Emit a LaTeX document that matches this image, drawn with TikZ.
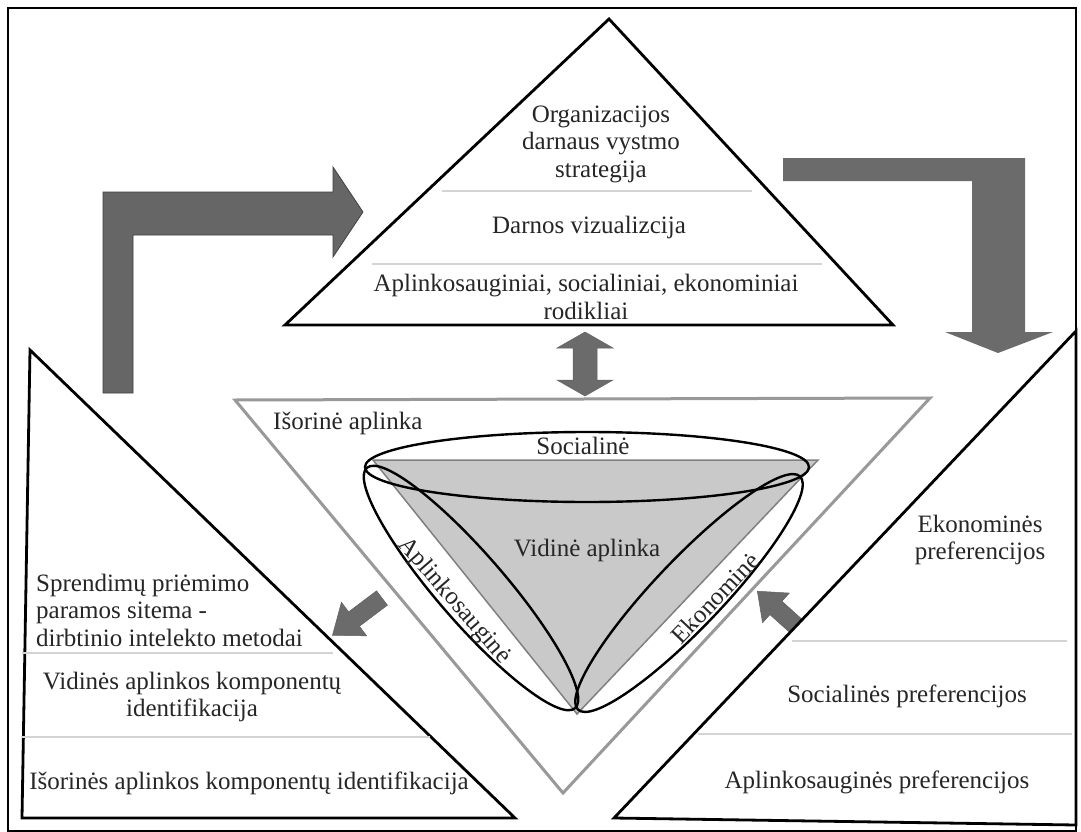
\documentclass[tikz,border=0pt]{standalone}
\usepackage{fontspec}
\setmainfont{Liberation Serif}
% block arrow: tail x, tail y, angle, length, shaft half-width, head half-width, head length
\newcommand\blockarrow[7]{%
  \begin{scope}[shift={(#1,#2)},rotate=#3]
    \filldraw[smallarrow] (0,#5) -- ({#4-#7},#5) -- ({#4-#7},#6) -- (#4,0)
      -- ({#4-#7},-#6) -- ({#4-#7},-#5) -- (0,-#5) -- cycle;
  \end{scope}}
\begin{document}
\begin{tikzpicture}[x=1pt,y=-1pt,
  txt/.style={font=\fontsize{25}{27.5}\selectfont, text=black!85, inner sep=0pt, align=center},
  blk/.style={draw=black, line width=2.8pt, line join=miter},
  sepline/.style={draw=black!17, line width=1.5pt},
  bigarrow/.style={fill=black!60, draw=black!75, line width=0.8pt},
  smallarrow/.style={fill=black!58, draw=black!62, line width=0.5pt},
  lens/.style={draw=black, line width=2.4pt},
]
\useasboundingbox (0,0) rectangle (1081,832);
\fill[white] (0,0) rectangle (1081,832);

% corner points of the triangles
\coordinate (T1) at (609,19);  \coordinate (T2) at (893,325); \coordinate (T3) at (285,325);
\coordinate (L1) at (30,350);  \coordinate (L2) at (515,818); \coordinate (L3) at (22,818);
\coordinate (R1) at (1076,331);\coordinate (R2) at (1076,825);\coordinate (R3) at (614,818);
\coordinate (O1) at (235,400); \coordinate (O2) at (930,398); \coordinate (O3) at (563,793);
\coordinate (I1) at (373,460); \coordinate (I2) at (818,460); \coordinate (I3) at (577,714);

% outer frame
\draw[line width=2.5pt] (8,8) rectangle (1076,831);

% bent arrows
\filldraw[bigarrow] (103,393) -- (103,192) -- (333,192) -- (333,167) -- (363,212)
  -- (333,257) -- (333,235) -- (133,235) -- (133,393) -- cycle;
\filldraw[bigarrow, draw=none, fill=black!58] (783,158) -- (1025,158) -- (1025,332) -- (1053,332)
  -- (998,353) -- (945,332) -- (972,332) -- (972,181) -- (783,181) -- cycle;

% double arrow between strategy and environment
\filldraw[smallarrow] (585,332) -- (613,348) -- (597,348) -- (597,380) -- (613,380)
  -- (585,396) -- (557,380) -- (573,380) -- (573,348) -- (557,348) -- cycle;

% small arrows
\blockarrow{382}{598}{217}{62}{9}{21}{27}
\blockarrow{796}{626}{138}{52}{9}{20}{25}

% external environment
\draw[draw=black!40, line width=3pt, line join=miter] (O1) -- (O2) -- (O3) -- cycle;
% internal environment
\filldraw[fill=black!21, draw=black!50, line width=1.5pt] (I1) -- (I2) -- (I3) -- cycle;

% three lenses
\draw[lens] (587,467) ellipse [x radius=222pt, y radius=35pt];
\draw[lens, rotate around={-49.1:(471,588)}] (471,588) ellipse [x radius=159pt, y radius=34pt];
\draw[lens, rotate around={46.4:(689,593)}] (689,593) ellipse [x radius=161pt, y radius=34pt];

% main triangles
\draw[blk] (T1) -- (T2) -- (T3) -- cycle;
\draw[blk] (L1) -- (L2) -- (L3) -- cycle;
\draw[blk] (R1) -- (R2) -- (R3) -- cycle;

% separators
\draw[sepline] (442,191) -- (752,191);
\draw[sepline] (372,264) -- (822,264);
\draw[sepline] (22,653) -- (333,653);
\draw[sepline] (22,737) -- (430,737);
\draw[sepline] (792,641) -- (1067,641);
\draw[sepline] (698,734) -- (1072,734);

% texts
\node[txt] (strat) at (601,144) {Organizacijos\\darnaus vystmo\\strategija};
\node[txt] (viz) at (589,227) {Darnos vizualizcija};
\node[txt] (rod) at (586,297) {Aplinkosauginiai, socialiniai, ekonominiai\\rodikliai};

\node[txt, align=left, anchor=west] (dss) at (36,610) {Sprendimų priėmimo\\paramos sitema -\\dirbtinio intelekto metodai};
\node[txt] (vid) at (192,697) {Vidinės aplinkos komponentų\\identifikacija};
\node[txt] (isor) at (249,783) {Išorinės aplinkos komponentų identifikacija};

\node[txt] (ekp) at (980,540) {Ekonominės\\preferencijos};
\node[txt] (socp) at (907,696) {Socialinės preferencijos};
\node[txt] (aplp) at (877,782) {Aplinkosauginės preferencijos};

\node[txt, anchor=west] (isa) at (273,423) {Išorinė aplinka};
\node[txt] (vida) at (587,550) {Vidinė aplinka};
\node[txt] (soc) at (583,446) {Socialinė};
\node[txt, rotate=-49.1] (apl) at (454,601) {Aplinkosauginė};
\node[txt, rotate=46.4] (eko) at (715,598) {Ekonominė};
\end{tikzpicture}
\end{document}
